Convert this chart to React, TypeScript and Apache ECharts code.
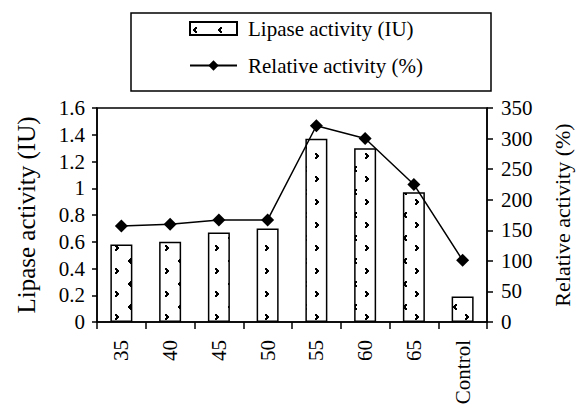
import React, { useEffect, useRef } from "react";
import * as echarts from "echarts";

const categories = ["35", "40", "45", "50", "55", "60", "65", "Control"];
const lipaseActivity = [0.58, 0.6, 0.67, 0.7, 1.37, 1.3, 0.97, 0.19];
const relativeActivity = [157, 160, 167, 167, 321, 300, 225, 101];
const leftAxisRange = [0, 1.6];
const leftAxisStep = 0.2;
const rightAxisRange = [0, 350];
const rightAxisStep = 50;
const barName = "Lipase activity (IU)";
const lineName = "Relative activity (%)";

const FONT = "Liberation Serif";

function makePattern(): HTMLCanvasElement {
  const c = document.createElement("canvas");
  c.width = 25;
  c.height = 23;
  const ctx = c.getContext("2d")!;
  ctx.fillStyle = "#ffffff";
  ctx.fillRect(0, 0, 25, 23);
  ctx.fillStyle = "#000000";
  const px = (x: number, y: number) => ctx.fillRect(x, y, 2, 2);
  // ">" mark
  px(15, 15);
  px(16, 16);
  px(17, 17);
  px(16, 18);
  px(15, 19);
  // "<" mark
  px(5, 5);
  px(4, 6);
  px(3, 7);
  px(4, 8);
  px(5, 9);
  return c;
}

export default function App() {
  const ref = useRef<HTMLDivElement>(null);
  useEffect(() => {
    document.body.style.margin = "0";
    if (!ref.current) return;
    const chart = echarts.init(ref.current, null, { renderer: "svg" });
    const pattern = makePattern();
    const axisLineStyle = { color: "#000", width: 1.5 };
    chart.setOption({
      animation: false,
      backgroundColor: "#fff",
      textStyle: { fontFamily: FONT, color: "#000" },
      grid: {
        left: 97,
        right: 86,
        top: 108,
        bottom: 88,
        show: true,
        borderColor: "#000",
        borderWidth: 1.5,
        containLabel: false,
      },
      graphic: [
        {
          type: "rect",
          shape: { x: 131, y: 13, width: 360, height: 78 },
          style: { fill: "none", stroke: "#000", lineWidth: 1.5 },
          z: 0,
        },
      ],
      legend: {
        orient: "vertical",
        left: 189,
        top: 18,
        padding: 0,
        itemWidth: 47,
        itemHeight: 13,
        itemGap: 16,
        selectedMode: false,
        textStyle: {
          fontFamily: FONT,
          fontSize: 21,
          color: "#000",
          padding: [0, 0, 0, 6],
        },
        data: [{ name: barName, icon: "rect" }, { name: lineName }],
      },
      xAxis: {
        type: "category",
        data: categories,
        boundaryGap: true,
        axisLine: { show: true, lineStyle: axisLineStyle },
        axisTick: { show: true, length: 7, lineStyle: axisLineStyle },
        axisLabel: {
          rotate: 90,
          interval: 0,
          margin: 18,
          fontFamily: FONT,
          fontSize: 21,
          color: "#000",
        },
        splitLine: { show: false },
      },
      yAxis: [
        {
          type: "value",
          min: leftAxisRange[0],
          max: leftAxisRange[1],
          interval: leftAxisStep,
          name: barName,
          nameLocation: "middle",
          nameGap: 58,
          nameRotate: 90,
          nameTextStyle: { fontFamily: FONT, fontSize: 25, color: "#000" },
          axisLine: { show: true, lineStyle: axisLineStyle },
          axisTick: { show: true, length: 5, lineStyle: axisLineStyle },
          axisLabel: { margin: 12, fontFamily: FONT, fontSize: 21, color: "#000" },
          splitLine: { show: false },
        },
        {
          type: "value",
          position: "right",
          min: rightAxisRange[0],
          max: rightAxisRange[1],
          interval: rightAxisStep,
          name: lineName,
          nameLocation: "middle",
          nameGap: 64,
          nameRotate: 90,
          nameTextStyle: { fontFamily: FONT, fontSize: 22, color: "#000" },
          axisLine: { show: true, lineStyle: axisLineStyle },
          axisTick: { show: true, length: 6, lineStyle: axisLineStyle },
          axisLabel: { margin: 14, fontFamily: FONT, fontSize: 21, color: "#000" },
          splitLine: { show: false },
        },
      ],
      series: [
        {
          name: barName,
          type: "bar",
          data: lipaseActivity,
          yAxisIndex: 0,
          barWidth: 22,
          itemStyle: {
            color: {
              image: pattern,
              repeat: "repeat",
              imageWidth: 25,
              imageHeight: 23,
            },
            borderColor: "#000",
            borderWidth: 1.5,
          },
        },
        {
          name: lineName,
          type: "line",
          data: relativeActivity,
          yAxisIndex: 1,
          symbol: "diamond",
          symbolSize: 13,
          lineStyle: { color: "#000", width: 1.5 },
          itemStyle: { color: "#000" },
        },
      ],
    });
    return () => chart.dispose();
  }, []);
  return <div ref={ref} style={{ width: 581, height: 410 }} />;
}
